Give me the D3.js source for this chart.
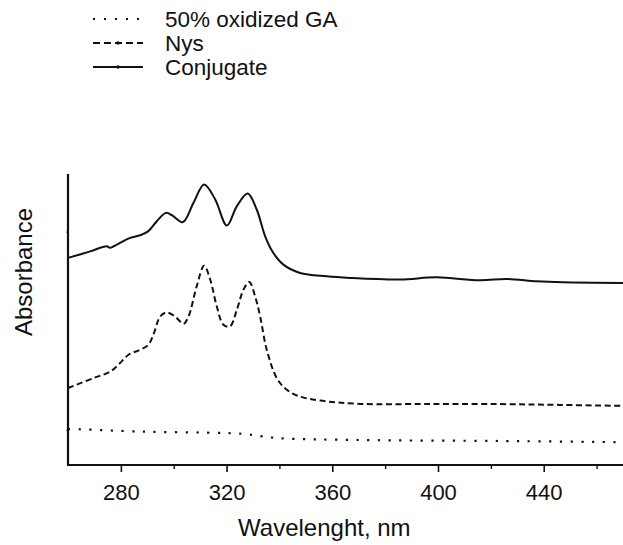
<!DOCTYPE html>
<html>
<head>
<meta charset="utf-8">
<script src="https://cdn.jsdelivr.net/npm/d3@7"></script>
<style>
  body { margin: 0; background: #fff; }
  text { font-family: "Liberation Sans", Arial, sans-serif; fill: #111; }
</style>
</head>
<body>
<div id="chart"></div>
<script>
// Declare constants
const FRAME_WIDTH = 623;
const FRAME_HEIGHT = 545;
const MARGINS = {left: 68, right: 0, top: 174, bottom: 80};
const VIS_WIDTH = FRAME_WIDTH - MARGINS.left - MARGINS.right;
const VIS_HEIGHT = FRAME_HEIGHT - MARGINS.top - MARGINS.bottom;

// data (wavelength nm, absorbance a.u.)
const gaWave = [260, 264.6, 288.5, 312.5, 326.0, 333.0, 340.0, 370.5, 423.5, 470];
const gaAbs  = [1.004, 1.003, 0.991, 0.986, 0.980, 0.968, 0.958, 0.949, 0.944, 0.938];

const nysWave = [260, 269.6, 276.0, 279.7, 282.9, 287.3, 290.4, 292.3, 294.9, 297.4,
                 300.5, 303.7, 305.6, 308.7, 311.5, 313.8, 316.3, 318.8, 321.3, 323.9,
                 326.4, 328.6, 330.8, 332.7, 335.2, 339.0, 342.8, 347.8, 355.4, 370.5,
                 397.0, 423.5, 446.2, 470];
const nysAbs  = [1.211, 1.261, 1.294, 1.337, 1.379, 1.404, 1.429, 1.480, 1.572, 1.592,
                 1.572, 1.535, 1.572, 1.724, 1.828, 1.758, 1.623, 1.530, 1.522, 1.606,
                 1.707, 1.746, 1.673, 1.572, 1.404, 1.261, 1.202, 1.168, 1.148, 1.131,
                 1.131, 1.130, 1.126, 1.121];

const conjWave = [260, 268.4, 274.7, 275.8, 277.5, 283.5, 287.3, 290.4, 293.6, 297.1,
                  299.4, 303.4, 307.5, 311.5, 315.7, 320.1, 323.9, 328.0, 331.4, 334.6,
                  337.7, 341.5, 347.8, 357.9, 366.7, 385.6, 399.5, 415.9, 426.0, 437.3,
                  447.4, 470];
const conjAbs  = [1.867, 1.900, 1.926, 1.918, 1.927, 1.968, 1.981, 2.002, 2.052, 2.094,
                  2.081, 2.047, 2.145, 2.237, 2.162, 2.030, 2.128, 2.192, 2.111, 1.976,
                  1.892, 1.833, 1.791, 1.774, 1.766, 1.758, 1.769, 1.754, 1.761, 1.749,
                  1.744, 1.741];

const majorTicks = [280, 320, 360, 400, 440];
const minorTicks = [300, 340, 380, 420, 460];
const yTicks = [1, 2];

const seriesNames = ["50% oxidized GA", "Nys", "Conjugate"];

// build series
const series = [
  {name: seriesNames[0], dash: "2.2,8.5", width: 2.2, pts: d3.zip(gaWave, gaAbs)},
  {name: seriesNames[1], dash: "6,3.5", width: 2, pts: d3.zip(nysWave, nysAbs)},
  {name: seriesNames[2], dash: null, width: 2, pts: d3.zip(conjWave, conjAbs)}
];

const svg = d3.select("#chart")
  .append("svg")
    .attr("width", FRAME_WIDTH)
    .attr("height", FRAME_HEIGHT);

// scales
const X_SCALE = d3.scaleLinear().domain([260, 470]).range([0, VIS_WIDTH]);
const Y_SCALE = d3.scaleLinear().domain([0.823, 2.29]).range([VIS_HEIGHT, 0]);

const g = svg.append("g")
  .attr("transform", "translate(" + MARGINS.left + "," + MARGINS.top + ")");

// lines
const line = d3.line()
  .x(d => X_SCALE(d[0]))
  .y(d => Y_SCALE(d[1]))
  .curve(d3.curveCatmullRom.alpha(0.5));

series.forEach(s => {
  g.append("path")
    .datum(s.pts)
    .attr("fill", "none")
    .attr("stroke", "#111")
    .attr("stroke-width", s.width)
    .attr("stroke-dasharray", s.dash)
    .attr("d", line);
});

// x axis: major ticks with labels, minor without
const xAxis = g.append("g")
  .attr("transform", "translate(0," + VIS_HEIGHT + ")")
  .call(d3.axisBottom(X_SCALE).tickValues(majorTicks).tickSize(7).tickPadding(12)
        .tickFormat(d3.format("d")));
xAxis.select(".domain").remove();
xAxis.selectAll(".tick line").attr("stroke", "#111").attr("stroke-width", 1.6);
xAxis.selectAll(".tick text").attr("font-size", "22px").attr("fill", "#111")
  .style("font-family", "'Liberation Sans', Arial, sans-serif");

const xMinor = g.append("g")
  .attr("transform", "translate(0," + VIS_HEIGHT + ")")
  .call(d3.axisBottom(X_SCALE).tickValues(minorTicks).tickSize(4).tickFormat(""));
xMinor.select(".domain").remove();
xMinor.selectAll(".tick line").attr("stroke", "#111").attr("stroke-width", 1.4);

// y axis ticks (no labels)
const yAxis = g.append("g")
  .call(d3.axisLeft(Y_SCALE).tickValues(yTicks).tickSize(2).tickFormat(""));
yAxis.select(".domain").remove();
yAxis.selectAll(".tick line").attr("stroke", "#777").attr("stroke-width", 1.2);

// axis frame lines (left and bottom)
g.append("line")
  .attr("x1", 0).attr("x2", 0).attr("y1", 0).attr("y2", VIS_HEIGHT)
  .attr("stroke", "#111").attr("stroke-width", 2.2);
g.append("line")
  .attr("x1", -1).attr("x2", VIS_WIDTH).attr("y1", VIS_HEIGHT).attr("y2", VIS_HEIGHT)
  .attr("stroke", "#111").attr("stroke-width", 2.2);

// axis titles
svg.append("text")
  .attr("x", MARGINS.left + X_SCALE(357))
  .attr("y", 536)
  .attr("text-anchor", "middle")
  .attr("font-size", "24px")
  .text("Wavelenght, nm");

svg.append("text")
  .attr("transform", "translate(32,272) rotate(-90)")
  .attr("text-anchor", "middle")
  .attr("font-size", "24px")
  .text("Absorbance");

// legend
const legend = svg.append("g").attr("transform", "translate(93,0)");
series.forEach((s, i) => {
  const cy = 19 + i * 24;
  legend.append("line")
    .attr("x1", 0).attr("x2", 50).attr("y1", cy).attr("y2", cy)
    .attr("stroke", "#111")
    .attr("stroke-width", s.width)
    .attr("stroke-dasharray", i === 0 ? "2,9" : (s.dash ? "7,4" : null));
  if (i > 0) {
    legend.append("circle").attr("cx", 25).attr("cy", cy).attr("r", 1.8).attr("fill", "#111");
  }
  legend.append("text")
    .attr("x", 72).attr("y", cy)
    .attr("dy", "0.35em")
    .attr("font-size", "22.5px")
    .text(s.name);
});
</script>
</body>
</html>
